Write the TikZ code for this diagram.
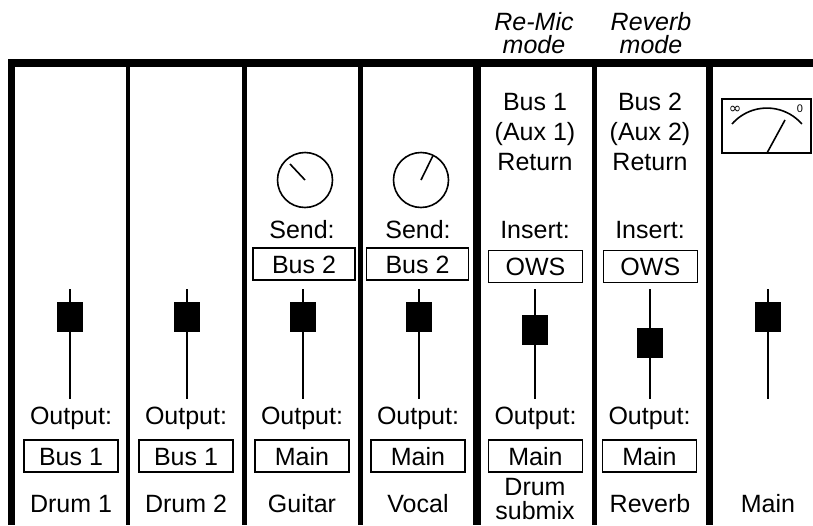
\documentclass[tikz,border=0pt]{standalone}
\usepackage{fontspec}
\setmainfont{Liberation Sans}
\newfontfamily\symfont{DejaVu Sans}
\begin{document}
\begin{tikzpicture}[x=1pt,y=-1pt,
  lbl/.style={font=\fontsize{25}{30}\selectfont, inner sep=0pt, anchor=base},
  ilbl/.style={font=\fontsize{25}{30}\selectfont\itshape, inner sep=0pt, anchor=base},
  valbox/.style={draw, line width=1.6pt, minimum width=94pt, minimum height=32pt, inner sep=0pt,
    text height=18pt, text depth=0pt, font=\fontsize{25}{30}\selectfont},
  sendbox/.style={valbox, minimum width=102pt},
  track/.style={line width=1.7pt},
  faderknob/.style={fill=black, minimum width=26pt, minimum height=30pt, inner sep=0pt},
  bar/.style={fill=black},
  dial/.style={draw, line width=1.6pt, circle, minimum size=55pt, inner sep=0pt},
  pointer/.style={line width=1.6pt},
  meterbox/.style={draw, line width=1.7pt, minimum width=89pt, minimum height=54pt, inner sep=0pt},
  small/.style={font=\fontsize{11}{12}\selectfont, inner sep=0pt}]
\useasboundingbox (0,0) rectangle (813,525);

% frame
\fill[bar] (8,59) rectangle (813,66.5);
\fill[bar] (8,59) rectangle (14.5,525);
\fill[bar] (126,66) rectangle (130,525);
\fill[bar] (242.3,66) rectangle (247.3,525);
\fill[bar] (358.3,66) rectangle (363.3,525);
\fill[bar] (473.3,66) rectangle (481,525);
\fill[bar] (592,66) rectangle (596.5,525);
\fill[bar] (705.7,66) rectangle (712.5,525);

% top labels
\node[ilbl] (remic) at (534,30) {Re-Mic};
\node[ilbl] (remicmode) at (534,53) {mode};
\node[ilbl] (rev) at (651,30) {Reverb};
\node[ilbl] (revmode) at (651,53) {mode};

% return labels
\node[lbl] (r1a) at (535,110) {Bus 1};
\node[lbl] (r1b) at (535,140) {(Aux 1)};
\node[lbl] (r1c) at (535,170) {Return};
\node[lbl] (r2a) at (650,110) {Bus 2};
\node[lbl] (r2b) at (650,140) {(Aux 2)};
\node[lbl] (r2c) at (650,170) {Return};

% meter
\node[meterbox] (meter) at (766.5,126.3) {};
\draw[line width=1.6pt] (732,124) arc[start angle=-139, end angle=-41, radius=46.3];
\draw[line width=1.6pt] (767,153) -- (785,120);
\node[small, font=\fontsize{15}{16}\selectfont] (inf) at (735,110) {\symfont ∞};
\node[small] (zero) at (800,109) {0};

% knobs
\node[dial] (k3) at (305,180) {};
\draw[pointer] (k3.center) -- ++(-15,-16);
\node[dial] (k4) at (421,180) {};
\draw[pointer] (k4.center) -- ++(12,-24.5);

% send / insert
\node[lbl] (s3) at (302,238) {Send:};
\node[sendbox] (sb3) at (304,264) {Bus 2};
\node[lbl] (s4) at (418,238) {Send:};
\node[sendbox] (sb4) at (417.5,264) {Bus 2};
\node[lbl] (i5) at (535,238) {Insert:};
\node[valbox] (ib5) at (535.5,266.5) {OWS};
\node[lbl] (i6) at (650,238) {Insert:};
\node[valbox] (ib6) at (650.3,266.5) {OWS};

% faders
\foreach \n/\x/\k in {1/70/317, 2/187/317, 3/303/317, 4/419/317, 5/535/329.5, 6/650/342.5, 7/768/317}{
  \coordinate (ft\n) at (\x,289);
  \coordinate (fb\n) at (\x,399);
  \draw[track] (ft\n) -- (fb\n);
  \node[faderknob] (fk\n) at (\x,\k) {};
}

% outputs
\foreach \n/\x/\v in {1/71/Bus 1, 2/186/Bus 1, 3/302/Main, 4/418/Main, 5/535.5/Main, 6/649.5/Main}{
  \node[lbl] (o\n) at (\x,424) {Output:};
  \node[valbox] (ob\n) at (\x,456) {\v};
}

% channel names
\node[lbl] (n1) at (71,512) {Drum 1};
\node[lbl] (n2) at (186,512) {Drum 2};
\node[lbl] (n3) at (302,512) {Guitar};
\node[lbl] (n4) at (418,512) {Vocal};
\node[lbl] (n5a) at (535,495) {Drum};
\node[lbl] (n5b) at (535,519) {submix};
\node[lbl] (n6) at (650,512) {Reverb};
\node[lbl] (n7) at (768,512) {Main};
\end{tikzpicture}
\end{document}
